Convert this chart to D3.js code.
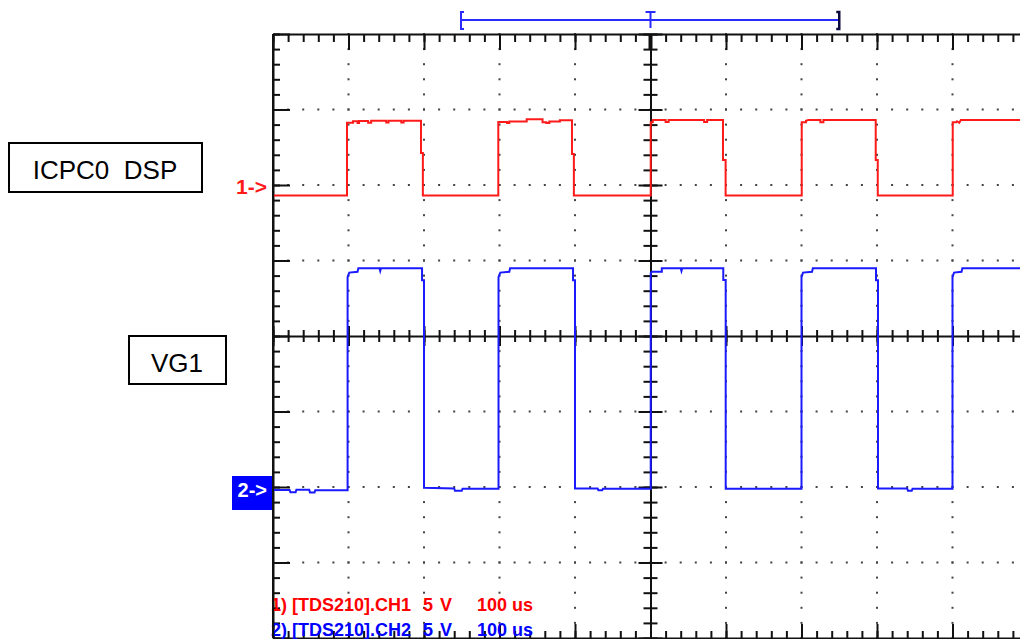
<!DOCTYPE html>
<html>
<head>
<meta charset="utf-8">
<script src="https://cdn.jsdelivr.net/npm/d3@7"></script>
<style>
  html, body { margin: 0; padding: 0; background: #fff; }
  svg { display: block; }
</style>
</head>
<body>
<svg id="scope" width="1020" height="639"></svg>
<script>
// Oscilloscope capture: TDS210, CH1 and CH2 at 5 V/div, 100 us/div.

const timePerDiv = 100;          // us
const timeDivs = 10;
const voltsPerDiv = [5, 5];      // CH1, CH2
const groundDiv = [2, -2];       // channel positions, in divisions from centre
const channelNames = ["1) [TDS210].CH1", "2) [TDS210].CH2"];
const channelVolts = ["5", "5"];
const channelUnits = ["V", "V"];
const channelTime = ["100 us", "100 us"];
const markerLabels = ["1->", "2->"];
const signalNames = ["ICPC0  DSP", "VG1"];

// Horizontal window indicator (us)
const windowSpan = [249, 750];
const triggerTime = 500;

// CH1 trace vertices [time us, volts]
const ch1Trace = [
  [0, -0.70], [98, -0.70], [98, 4.12], [106, 4.12], [106, 4.22], [112, 4.22], [112, 4.10],
  [114, 4.10], [114, 4.24], [126, 4.24], [126, 4.12], [130, 4.12], [130, 4.26], [150, 4.26],
  [150, 4.14], [153, 4.14], [153, 4.26], [170, 4.26], [170, 4.14], [173, 4.14], [173, 4.26],
  [196, 4.26], [196, 2.12], [198.5, 2.12], [198.5, -0.70],
  [298.4, -0.70], [298.4, 4.18], [310, 4.18], [310, 4.10], [313, 4.10], [313, 4.20],
  [336, 4.20], [336, 4.35], [357, 4.35], [357, 4.16], [362, 4.16], [362, 4.10], [366, 4.10],
  [366, 4.20], [380, 4.20], [380, 4.28], [396, 4.28], [396, 2.05], [398.5, 2.05], [398.5, -0.70],
  [500.3, -0.70], [500.3, 4.16], [503, 4.16], [503, 4.30], [520, 4.30], [520, 4.18],
  [524, 4.18], [524, 4.30], [571, 4.30], [571, 4.18], [575, 4.18], [575, 4.30], [596, 4.30],
  [596, 1.66], [599.5, 1.66], [599.5, -0.70],
  [700.3, -0.70], [700.3, 4.15], [706, 4.15], [706, 4.25], [709, 4.30], [725, 4.30],
  [725, 4.15], [729, 4.15], [729, 4.30], [798.3, 4.30], [798.3, 1.66], [801, 1.66], [801, -0.70],
  [900.3, -0.70], [900.3, 4.15], [905, 4.15], [906, 4.22], [909, 4.12], [911, 4.30], [1000, 4.30]
];

// CH2 trace vertices [time us, volts]
const ch2Trace = [
  [0, -0.20], [22, -0.20], [23, -0.34], [30, -0.34], [31, -0.18], [48, -0.18], [49, -0.36],
  [55, -0.36], [56, -0.22], [98.8, -0.22], [98.8, 13.9], [101, 14.2], [112, 14.25], [113, 14.48],
  [141, 14.48], [142, 14.30], [143, 14.48], [197.4, 14.48], [197.4, 13.7], [200, 13.7],
  [200, -0.05], [240, -0.10], [241, -0.25], [250, -0.25], [251, -0.12], [298.7, -0.12],
  [298.7, 13.9], [301, 14.2], [313, 14.25], [314, 14.48], [397.4, 14.48], [397.4, 13.7],
  [400, 13.7], [400, -0.10], [430, -0.10], [431, -0.22], [436, -0.22], [437, -0.12], [500.3, -0.12],
  [500.3, 14.17], [502, 14.26], [515, 14.26], [515, 14.48], [540, 14.48], [541, 14.30],
  [542, 14.48], [596.4, 14.48], [596.4, 13.71], [599.6, 13.71], [599.6, -0.12], [700, -0.12],
  [700, 13.9], [702, 14.2], [714, 14.25], [715, 14.48], [798.7, 14.48], [798.7, 13.7],
  [801.3, 13.7], [801.3, -0.10], [840, -0.10], [841, -0.25], [846, -0.25], [847, -0.12],
  [900, -0.12], [900, 13.9], [902, 14.2], [912, 14.25], [913, 14.48], [1000, 14.48]
];

const traces = [ch1Trace, ch2Trace];
const traceColors = ["#ff1a1a", "#1a1aff"];

const svg = d3.select("#scope");
const font = "'Liberation Sans', Arial, sans-serif";

const x = d3.scaleLinear().domain([0, timeDivs * timePerDiv]).range([273, 1028]);
const y = d3.scaleLinear().domain([-4, 4]).range([638, 34]);   // divisions

const minorT = d3.range(0, timeDivs * 5 + 1).map(i => i * timePerDiv / 5);
const majorT = d3.range(0, timeDivs + 1).map(i => i * timePerDiv);
const minorD = d3.range(-20, 21).map(i => i / 5);
const majorD = d3.range(-4, 5);

// ---- graticule dots ----
const dots = svg.append("g").attr("fill", "#444");
majorT.filter(t => t !== 0 && t !== 500 && t !== 1000).forEach(t => {
  dots.selectAll(null).data(minorD).join("rect")
    .attr("x", x(t) - 1).attr("y", d => y(d) - 1).attr("width", 2).attr("height", 2);
});
majorD.filter(d => Math.abs(d) !== 4 && d !== 0).forEach(d => {
  dots.selectAll(null).data(minorT).join("rect")
    .attr("x", t => x(t) - 1).attr("y", y(d) - 1).attr("width", 2).attr("height", 2);
});

// ---- tick axes ----
function tickAxis(axisFn, scale, values, size, transform, domain) {
  const g = svg.append("g").attr("transform", transform)
    .call(axisFn(scale).tickValues(values).tickSize(size).tickSizeOuter(0).tickFormat(""));
  g.selectAll(".tick line").attr("stroke", "#111").attr("stroke-width", 2);
  g.select(".domain").attr("stroke", domain ? "#111" : "none").attr("stroke-width", 2);
  return g;
}

// borders
tickAxis(d3.axisBottom, x, minorT, 8, `translate(0,${y(4)})`, true);
tickAxis(d3.axisBottom, x, majorT, 16, `translate(0,${y(4)})`, false);
tickAxis(d3.axisTop, x, minorT, 7, `translate(0,${y(-4)})`, true);
tickAxis(d3.axisTop, x, majorT, 14, `translate(0,${y(-4)})`, false);
tickAxis(d3.axisRight, y, minorD, 7, `translate(${x(0)},0)`, true);
tickAxis(d3.axisRight, y, majorD, 17, `translate(${x(0)},0)`, false);

// centre axes, ticks on both sides
tickAxis(d3.axisTop, x, minorT, 6, `translate(0,${y(0)})`, true);
tickAxis(d3.axisBottom, x, minorT, 6, `translate(0,${y(0)})`, false);
tickAxis(d3.axisTop, x, majorT, 10, `translate(0,${y(0)})`, false);
tickAxis(d3.axisBottom, x, majorT, 10, `translate(0,${y(0)})`, false);
tickAxis(d3.axisLeft, y, minorD, 7, `translate(${x(500)},0)`, true);
tickAxis(d3.axisRight, y, minorD, 7, `translate(${x(500)},0)`, false);
tickAxis(d3.axisLeft, y, majorD, 12, `translate(${x(500)},0)`, false);
tickAxis(d3.axisRight, y, majorD, 12, `translate(${x(500)},0)`, false);

// trigger position mark on the top border
svg.append("line")
  .attr("x1", x(triggerTime)).attr("x2", x(triggerTime))
  .attr("y1", y(4)).attr("y2", y(4) + 15)
  .attr("stroke", "#111").attr("stroke-width", 4);

// ---- traces ----
const line = (ch) => d3.line()
  .x(d => x(d[0]))
  .y(d => y(d[1] / voltsPerDiv[ch] + groundDiv[ch]));

traces.forEach((tr, ch) => {
  svg.append("path")
    .attr("d", line(ch)(tr))
    .attr("fill", "none")
    .attr("stroke", traceColors[ch])
    .attr("stroke-width", 2)
    .attr("stroke-linejoin", "miter");
});

// ---- window indicator ----
const bracket = svg.append("g");
const by0 = 12, by1 = 29, bmid = 20;
bracket.append("line")
  .attr("x1", x(windowSpan[0])).attr("x2", x(windowSpan[1]))
  .attr("y1", bmid).attr("y2", bmid)
  .attr("stroke", "#2a2aff").attr("stroke-width", 2);
bracket.append("path")
  .attr("d", `M${x(windowSpan[0]) + 3},${by0}H${x(windowSpan[0])}V${by1}H${x(windowSpan[0]) + 3}`)
  .attr("fill", "none").attr("stroke", "#2a2aff").attr("stroke-width", 2);
bracket.append("path")
  .attr("d", `M${x(windowSpan[1]) - 3},${by0}H${x(windowSpan[1])}V${by1}H${x(windowSpan[1]) - 3}`)
  .attr("fill", "none").attr("stroke", "#0a0a40").attr("stroke-width", 2.5);
bracket.append("path")
  .attr("d", `M${x(triggerTime) - 5},${by0}H${x(triggerTime) + 5}M${x(triggerTime)},${by0}V${by1 - 1}`)
  .attr("fill", "none").attr("stroke", "#2a2aff").attr("stroke-width", 2);

// ---- channel ground markers ----
svg.append("text")
  .attr("x", 267).attr("y", y(groundDiv[0]) + 9)
  .attr("text-anchor", "end")
  .attr("font-family", font).attr("font-weight", "bold").attr("font-size", 21)
  .attr("fill", "#ff1a1a")
  .text(markerLabels[0]);

svg.append("rect")
  .attr("x", 232).attr("y", y(groundDiv[1]) - 11).attr("width", 41).attr("height", 34)
  .attr("fill", "#0000ff");
svg.append("text")
  .attr("x", 267).attr("y", y(groundDiv[1]) + 10)
  .attr("text-anchor", "end")
  .attr("font-family", font).attr("font-weight", "bold").attr("font-size", 20)
  .attr("fill", "#fff")
  .text(markerLabels[1]);

// ---- channel settings readout ----
const readoutY = [611, 636];
const readoutColors = ["#ff0000", "#0000ff"];
[0, 1].forEach(ch => {
  const g = svg.append("g")
    .attr("font-family", font).attr("font-weight", "bold").attr("font-size", 18)
    .attr("fill", readoutColors[ch]);
  g.append("text").attr("x", 271).attr("y", readoutY[ch]).text(channelNames[ch]);
  g.append("text").attr("x", 423).attr("y", readoutY[ch]).text(channelVolts[ch]);
  g.append("text").attr("x", 440).attr("y", readoutY[ch]).text(channelUnits[ch]);
  g.append("text").attr("x", 477).attr("y", readoutY[ch]).text(channelTime[ch]);
});

// redraw the left border over the readout text
svg.append("line")
  .attr("x1", x(0)).attr("x2", x(0)).attr("y1", y(4)).attr("y2", y(-4))
  .attr("stroke", "#111").attr("stroke-width", 2);

// ---- signal name boxes ----
const boxes = [
  { x: 9, y: 143, w: 193, h: 49, tx: 105, ty: 179 },
  { x: 129, y: 336, w: 97, h: 48, tx: 177, ty: 371.5 }
];
boxes.forEach((b, i) => {
  svg.append("rect")
    .attr("x", b.x).attr("y", b.y).attr("width", b.w).attr("height", b.h)
    .attr("fill", "#fff").attr("stroke", "#000").attr("stroke-width", 2);
  svg.append("text")
    .attr("x", b.tx).attr("y", b.ty)
    .attr("text-anchor", "middle")
    .attr("font-family", font).attr("font-size", 26)
    .style("white-space", "pre")
    .attr("fill", "#000")
    .text(signalNames[i]);
});
</script>
</body>
</html>
